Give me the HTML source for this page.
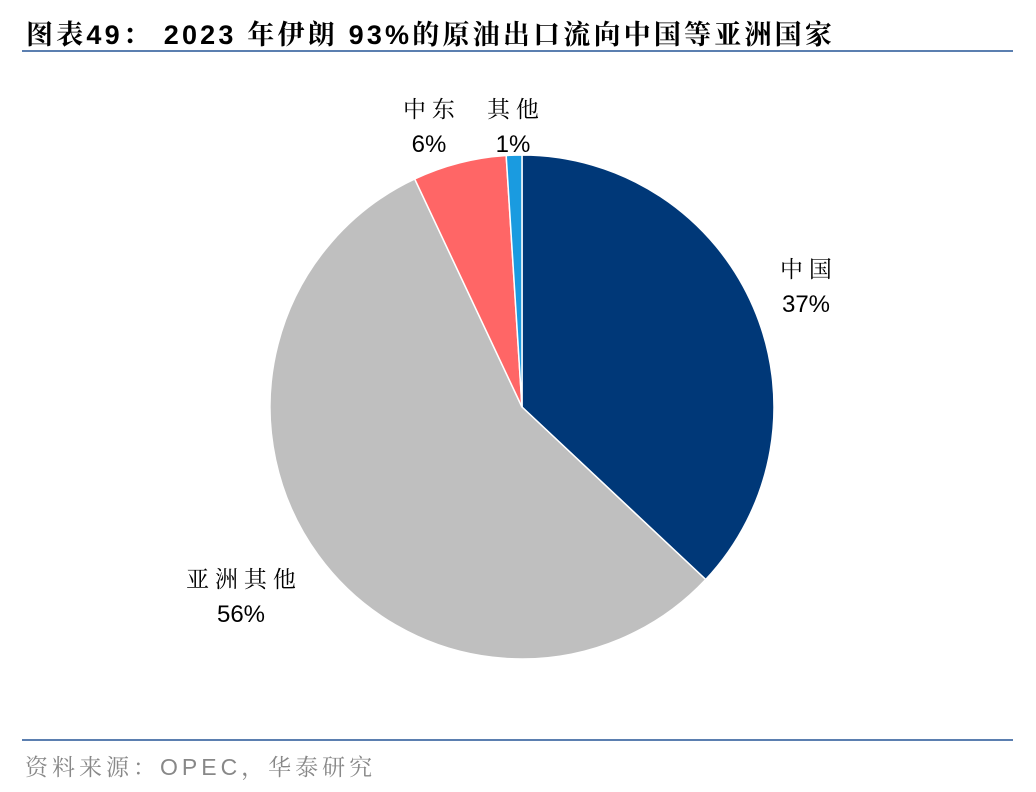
<!DOCTYPE html>
<html><head><meta charset="utf-8"><style>
body{margin:0;width:1036px;height:792px;background:#fff;position:relative;overflow:hidden}
.t{position:absolute;white-space:nowrap}
</style></head><body>
<div class="t" style="left:26px;top:13px;font:bold 27px 'Liberation Sans','Noto Serif CJK SC',serif;color:#000;letter-spacing:3.2px">图表49：&nbsp;2023 年伊朗 93%的原油出口流向中国等亚洲国家</div>
<div style="position:absolute;left:22px;top:50px;width:991px;height:2px;background:#5b7fb0"></div>
<div style="position:absolute;left:22px;top:739px;width:991px;height:2px;background:#5b7fb0"></div>
<div class="t" style="left:25px;top:749px;font:23px 'Liberation Sans','Noto Serif CJK SC',serif;color:#888;letter-spacing:4px">资料来源：OPEC，华泰研究</div>
<svg id="chart" width="1036" height="792" style="position:absolute;left:0;top:0"></svg>
<script>
const categories=["中国","亚洲其他","中东","其他"];
const values=[37,56,6,1];
const colors=["#003878","#bfbfbf","#ff6666","#1a9be0"];
const labelPos=[[806,285],[241,595],[429,125],[513,125]];
const svg=document.getElementById('chart');
const cx=522,cy=407,r=252;
const total=values.reduce((a,b)=>a+b,0);
let acc=0;
const ns='http://www.w3.org/2000/svg';
function pt(f){const a=f*2*Math.PI;return [cx+r*Math.sin(a),cy-r*Math.cos(a)];}
values.forEach((v,i)=>{
 const s=acc/total;acc+=v;const e=acc/total;
 const [x1,y1]=pt(s),[x2,y2]=pt(e);
 const p=document.createElementNS(ns,'path');
 p.setAttribute('d',`M${cx},${cy}L${x1},${y1}A${r},${r} 0 ${e-s>0.5?1:0} 1 ${x2},${y2}Z`);
 p.setAttribute('fill',colors[i]);p.setAttribute('stroke','#fff');p.setAttribute('stroke-width','1.5');
 
 
 svg.appendChild(p);
 const [lx,ly]=labelPos[i];
 const t1=document.createElementNS(ns,'text');
 t1.setAttribute('x',lx);t1.setAttribute('y',ly-8);t1.setAttribute('text-anchor','middle');
 t1.setAttribute('font-family',"'Noto Serif CJK SC',serif");t1.setAttribute('font-size','23');
 t1.textContent=categories[i].split('').join(' ');
 
 
 svg.appendChild(t1);
 const t2=document.createElementNS(ns,'text');
 t2.setAttribute('x',lx);t2.setAttribute('y',ly+27);t2.setAttribute('text-anchor','middle');
 t2.setAttribute('font-family',"'Liberation Sans',sans-serif");t2.setAttribute('font-size','24');
 t2.textContent=v+'%';
 
 
 svg.appendChild(t2);
});
</script>
</body></html>
